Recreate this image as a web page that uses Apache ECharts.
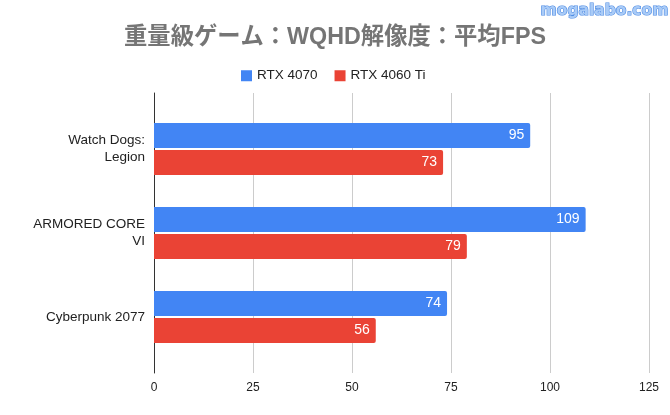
<!DOCTYPE html>
<html><head><meta charset="utf-8">
<script src="https://cdn.jsdelivr.net/npm/echarts@6/dist/echarts.min.js"></script>
<style>html,body{margin:0;padding:0;background:#fff}#c{width:670px;height:415px}</style>
</head><body><div id="c"></div>
<script>
const titleText = '重量級ゲーム：WQHD解像度：平均FPS';
const watermark = 'mogalabo.com';
const categories = ['Watch Dogs:\nLegion', 'ARMORED CORE\nVI', 'Cyberpunk 2077'];
const seriesNames = ['RTX 4070', 'RTX 4060 Ti'];
const rtx4070 = [95, 109, 74];
const rtx4060ti = [73, 79, 56];
const xTicks = [0, 25, 50, 75, 100, 125];

const FONT = '"Liberation Sans", Arial, "Noto Sans CJK JP", sans-serif';
const chart = echarts.init(document.getElementById('c'), null, {renderer: 'canvas'});
chart.setOption({
  animation: false,
  backgroundColor: '#fff',
  title: {
    text: titleText, left: 'center', top: 21,
    textStyle: {fontFamily: FONT, fontSize: 23.3, fontWeight: 'bold', color: '#757575'}
  },
  graphic: [{
    type: 'text', left: 540, top: 2,
    style: {text: watermark, font: 'bold 15.5px "DejaVu Sans"', fill: '#a9cbf7', stroke: '#4f8ce4', lineWidth: 1.2}
  }],
  legend: {
    data: seriesNames, left: 236, top: 64, itemWidth: 11, itemHeight: 11, itemGap: 17,
    icon: 'rect',
    textStyle: {fontFamily: FONT, fontSize: 13.5, color: '#222'}
  },
  grid: [
    {left: 154, right: 21, top: 93, bottom: 42, containLabel: false},
    {left: 154, right: 21, top: 107, bottom: 56, containLabel: false}
  ],
  xAxis: [
    {gridIndex: 0, type: 'value', min: xTicks[0], max: xTicks[xTicks.length - 1], interval: 25,
     axisLine: {show: false}, axisTick: {show: false},
     splitLine: {show: true, lineStyle: {color: '#cccccc', width: 1}},
     axisLabel: {fontFamily: FONT, fontSize: 12, color: '#222', margin: 9}},
    {gridIndex: 1, type: 'value', min: xTicks[0], max: xTicks[xTicks.length - 1], interval: 25,
     show: false}
  ],
  yAxis: [
    {gridIndex: 0, type: 'value', min: 0, max: 1, show: true,
     axisLine: {show: true, lineStyle: {color: '#333', width: 1}},
     axisTick: {show: false}, axisLabel: {show: false}, splitLine: {show: false}},
    {gridIndex: 1, type: 'category', data: categories, inverse: true,
     axisLine: {show: false}, axisTick: {show: false},
     axisLabel: {fontFamily: FONT, fontSize: 13.5, color: '#222', margin: 9, lineHeight: 17, align: 'right', padding: [3, 0, 0, 0]}}
  ],
  series: [
    {name: seriesNames[0], type: 'bar', xAxisIndex: 1, yAxisIndex: 1, data: rtx4070,
     barWidth: 25, barGap: '8%', itemStyle: {color: '#4285F4', borderRadius: [0, 2, 2, 0]},
     label: {show: true, position: 'insideRight', distance: 6, color: '#fff', fontFamily: FONT, fontSize: 14}},
    {name: seriesNames[1], type: 'bar', xAxisIndex: 1, yAxisIndex: 1, data: rtx4060ti,
     barWidth: 25, barGap: '8%', itemStyle: {color: '#EA4335', borderRadius: [0, 2, 2, 0]},
     label: {show: true, position: 'insideRight', distance: 6, color: '#fff', fontFamily: FONT, fontSize: 14}}
  ]
});
</script></body></html>
